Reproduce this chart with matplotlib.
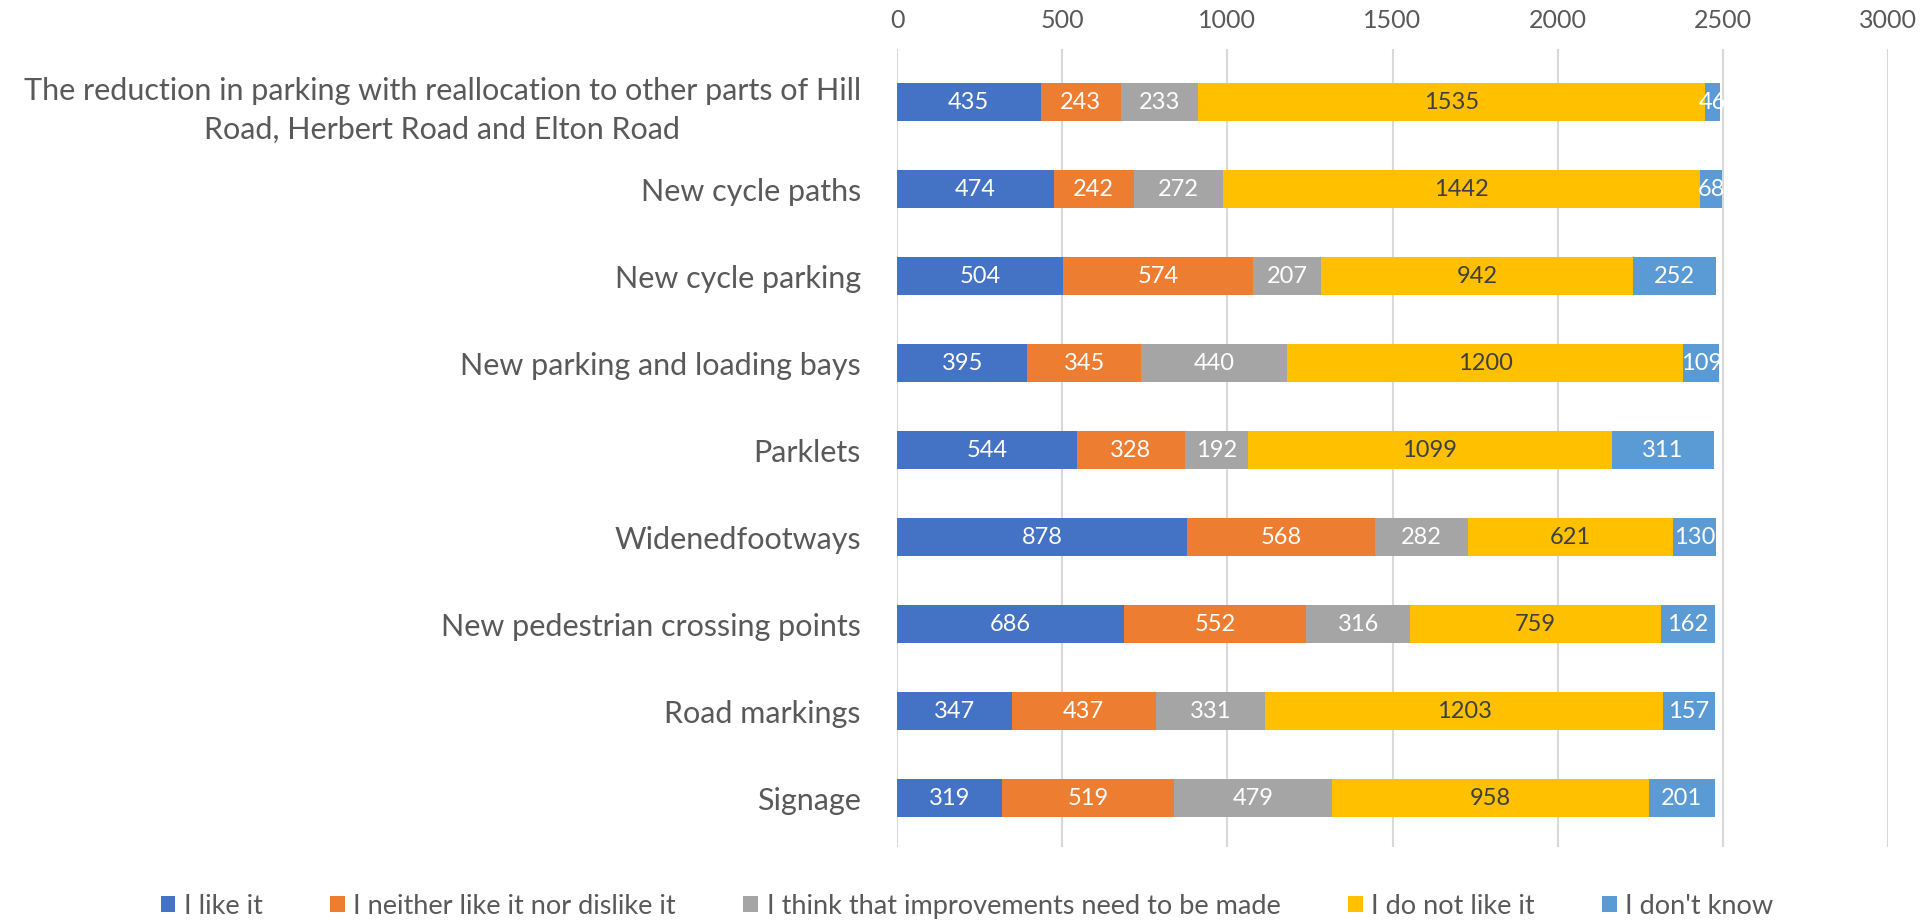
import matplotlib.pyplot as plt
import numpy as np

plt.rcParams['font.family'] = ['Lato', 'DejaVu Sans']

# categories, top to bottom
categories = [
    'The reduction in parking with reallocation to other parts of Hill\nRoad, Herbert Road and Elton Road',
    'New cycle paths',
    'New cycle parking',
    'New parking and loading bays',
    'Parklets',
    'Widenedfootways',
    'New pedestrian crossing points',
    'Road markings',
    'Signage',
]

like_it = [435, 474, 504, 395, 544, 878, 686, 347, 319]
neither = [243, 242, 574, 345, 328, 568, 552, 437, 519]
improvements = [233, 272, 207, 440, 192, 282, 316, 331, 479]
dislike = [1535, 1442, 942, 1200, 1099, 621, 759, 1203, 958]
dont_know = [46, 68, 252, 109, 311, 130, 162, 157, 201]

series_names = ['I like it', 'I neither like it nor dislike it',
                'I think that improvements need to be made', 'I do not like it',
                "I don't know"]
colors = ['#4472C4', '#ED7D31', '#A5A5A5', '#FFC000', '#5B9BD5']
label_colors = ['white', 'white', 'white', '#3F3F3F', 'white']

fig = plt.figure(figsize=(19.26, 9.21), dpi=100)
ax = fig.add_axes([897 / 1926, 1 - 847 / 921, (1888 - 897) / 1926, (847 - 49) / 921])

y = np.arange(len(categories))
left = np.zeros(len(categories))
for vals, name, col, lcol in zip([like_it, neither, improvements, dislike, dont_know],
                                 series_names, colors, label_colors):
    bars = ax.barh(y, vals, left=left, height=0.44, color=col, label=name)
    ax.bar_label(bars, labels=[str(v) for v in vals], label_type='center',
                 color=lcol, fontsize=17)
    left += np.array(vals)

ax.set_xlim(0, 3000)
ax.set_ylim(8.56, -0.61)
ax.set_xticks(range(0, 3001, 500))
ax.set_yticks(y)
ax.set_yticklabels(categories, multialignment='center', linespacing=1.5)
ax.tick_params(axis='y', pad=26, length=0, labelsize=22, labelcolor='#595959')
ax.xaxis.tick_top()
ax.tick_params(axis='x', length=0, labelsize=18, labelcolor='#595959', pad=12)
ax.grid(axis='x', color='#D9D9D9', linewidth=1.5)
ax.set_axisbelow(True)
for s in ax.spines.values():
    s.set_visible(False)

fig.legend(loc='center', bbox_to_anchor=(967 / 1926, 1 - 906 / 921), ncol=5,
           frameon=False, fontsize=19.5, handlelength=0.55, handleheight=0.55,
           handletextpad=0.3, columnspacing=2.5, labelcolor='#595959')

fig.savefig('out.png', dpi=100)
